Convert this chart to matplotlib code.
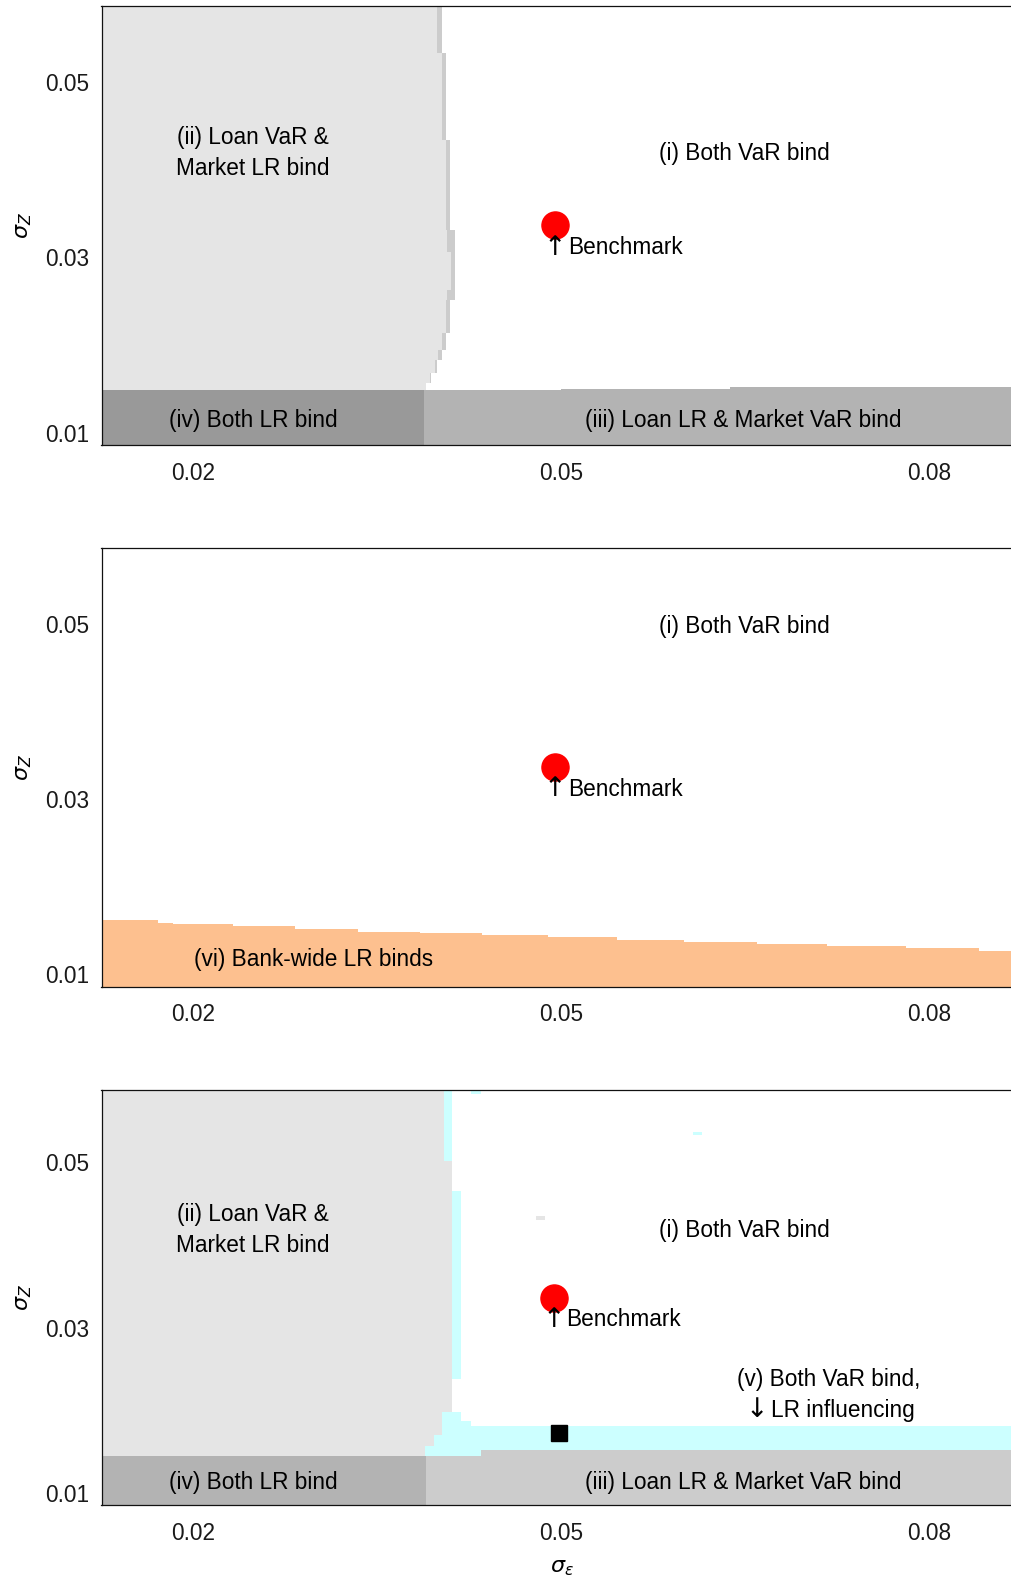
import matplotlib
matplotlib.use("Agg")
import matplotlib.pyplot as plt

plt.rcParams['font.family'] = ['Liberation Sans', 'DejaVu Sans']
plt.rcParams['mathtext.fontset'] = 'dejavusans'

# ---- axes ranges and ticks ----
x_range = (0.0125, 0.0875)
y_range = (0.0086, 0.0587)
x_ticks = [0.02, 0.05, 0.08]
x_tick_labels = ["0.02", "0.05", "0.08"]
y_ticks = [0.01, 0.03, 0.05]
y_tick_labels = ["0.01", "0.03", "0.05"]

# ---- reference points ----
benchmark_x, benchmark_y = 0.0495, 0.0337
lr_point_x, lr_point_y = 0.0498, 0.01727

# ---- panel A: separate capital requirements ----
# right edge of region (ii) and of the boundary strip, per sigma_Z band
a_band_y = [0.01488, 0.01568, 0.01682, 0.0183, 0.01945, 0.02139, 0.02516,
            0.0263, 0.03065, 0.03317, 0.04345, 0.05339, 0.07]
a_ii_x = [0.03899, 0.03932, 0.03967, 0.03997, 0.0403, 0.04063, 0.04071,
          0.04103, 0.04071, 0.04063, 0.04024, 0.03989]
a_strip_x = [0.0390, 0.0394, 0.03985, 0.04024, 0.04063, 0.04095, 0.04136,
             0.04136, 0.04136, 0.04095, 0.04063, 0.04024]
a_iv_right = 0.03877
a_iv_top = 0.01488
a_iii_x = [0.03877, 0.05002, 0.0638, 0.1]
a_iii_top = [0.01488, 0.0150, 0.01522]

# ---- panel B: bank-wide requirement ----
b_vi_x = [0.0, 0.01707, 0.01837, 0.02322, 0.02826, 0.03339, 0.03845, 0.0435,
          0.04888, 0.05451, 0.06005, 0.066, 0.07171, 0.07815, 0.0841, 0.1]
b_vi_top = [0.01614, 0.01588, 0.01569, 0.01549, 0.01512, 0.01485, 0.01466,
            0.01447, 0.0142, 0.01386, 0.01363, 0.0134, 0.01318, 0.01295, 0.01261]

# ---- panel C: separate requirements with LR influence ----
c_ii_y = [0.01455, 0.01568, 0.01709, 0.01977, 0.05013, 0.07]
c_ii_x = [0.03886, 0.03959, 0.0403, 0.04111, 0.0404]
c_v_y = [0.01455, 0.01519, 0.01817, 0.01869, 0.01977, 0.02383, 0.04648,
         0.05013, 0.07]
c_v_x = [0.1, 0.1, 0.0426, 0.04185, 0.04111, 0.04185, 0.04111, 0.04111]
c_iv_right = 0.03894
c_iv_top = 0.01455
c_iii_x = [0.03894, 0.04342, 0.1]
c_iii_top = [0.01455, 0.01519]
# isolated grid cells
c_v_cells = [(0.0426, 0.04342, 0.05827, 0.0590), (0.06071, 0.06152, 0.05323, 0.05363)]
c_ii_cells = [(0.0479, 0.04866, 0.04302, 0.04347)]

GRAY_II = "#e5e5e5"
CYAN_V = "#ccffff"
ORANGE_VI = "#fdc08f"
FS = 16.3

W, H = 1011, 1587
fig = plt.figure(figsize=(W / 100, H / 100), dpi=100)


def make_axes(top_px, bottom_px):
    left = 101.5 / W
    right = 1021.0 / W
    ax = fig.add_axes([left, 1 - bottom_px / H, right - left, (bottom_px - top_px) / H])
    ax.set_xlim(*x_range)
    ax.set_ylim(*y_range)
    ax.set_xticks(x_ticks)
    ax.set_xticklabels(x_tick_labels)
    ax.set_yticks(y_ticks)
    ax.set_yticklabels(y_tick_labels)
    ax.tick_params(axis='both', length=0, labelsize=FS, colors='#1a1a1a')
    ax.tick_params(axis='x', pad=12)
    ax.tick_params(axis='y', pad=9)
    ax.spines['right'].set_visible(False)
    for s in ('left', 'top', 'bottom'):
        ax.spines[s].set_linewidth(0.9)
        ax.spines[s].set_color('#111111')
        ax.spines[s].set_zorder(10)
    ax.text(-0.085, 0.5, r'$\sigma_Z$', rotation=90, transform=ax.transAxes,
            ha='center', va='center', fontsize=16)
    return ax


def band_fill(ax, y_edges, x_right, color, x_left=0.0):
    ax.fill_betweenx(y_edges, x_left, list(x_right) + [x_right[-1]], step='post',
                     color=color, linewidth=0, antialiased=False)


def step_fill(ax, x_edges, tops, color):
    ax.fill_between(x_edges, 0.0, list(tops) + [tops[-1]], step='post',
                    color=color, linewidth=0, antialiased=False)


def arrow_label(ax, x, y, arrow, label, gap=0.00102):
    # arrow glyph centred on x, label text to its right
    ax.text(x, y, arrow, fontsize=FS + 3, family='DejaVu Sans',
            ha='center', va='center', zorder=7)
    ax.text(x + gap, y, label, fontsize=FS, ha='left', va='center', zorder=7)


def add_benchmark(ax, x=benchmark_x, y=benchmark_y):
    ax.plot([x], [y], 'o', color='#ff0000', markersize=19.5, zorder=6)
    arrow_label(ax, x, y - 0.0026, "\u2191", "Benchmark")


label_kw = dict(fontsize=FS, ha='center', va='center', linespacing=1.45, zorder=7)

# ---------- panel A ----------
ax1 = make_axes(6, 445)
band_fill(ax1, a_band_y, a_strip_x, "#cccccc")
band_fill(ax1, a_band_y, a_ii_x, GRAY_II)
ax1.fill_between([0.0, a_iv_right], 0.0, a_iv_top, color="#999999",
                 linewidth=0, antialiased=False)
step_fill(ax1, a_iii_x, a_iii_top, "#b3b3b3")
add_benchmark(ax1)
ax1.text(0.02483, 0.0419, "(ii) Loan VaR &\nMarket LR bind", **label_kw)
ax1.text(0.06494, 0.0419, "(i) Both VaR bind", **label_kw)
ax1.text(0.02488, 0.01145, "(iv) Both LR bind", **label_kw)
ax1.text(0.06482, 0.01145, "(iii) Loan LR & Market VaR bind", **label_kw)

# ---------- panel B ----------
ax2 = make_axes(547.5, 986.5)
step_fill(ax2, b_vi_x, b_vi_top, ORANGE_VI)
add_benchmark(ax2)
ax2.text(0.06494, 0.04965, "(i) Both VaR bind", **label_kw)
ax2.text(0.02977, 0.01168, "(vi) Bank-wide LR binds", **label_kw)

# ---------- panel C ----------
ax3 = make_axes(1090, 1505)
band_fill(ax3, c_v_y, c_v_x, CYAN_V)
band_fill(ax3, c_ii_y, c_ii_x, GRAY_II)
ax3.fill_between([0.0, c_iv_right], 0.0, c_iv_top, color="#b3b3b3",
                 linewidth=0, antialiased=False)
step_fill(ax3, c_iii_x, c_iii_top, "#cccccc")
for x0, x1, y0, y1 in c_v_cells:
    ax3.fill_between([x0, x1], y0, y1, color=CYAN_V, linewidth=0, antialiased=False)
for x0, x1, y0, y1 in c_ii_cells:
    ax3.fill_between([x0, x1], y0, y1, color=GRAY_II, linewidth=0, antialiased=False)
ax3.plot([lr_point_x], [lr_point_y], 's', color='black', markersize=12, zorder=6)
add_benchmark(ax3, x=0.0494, y=0.03355)
ax3.text(0.02483, 0.04185, "(ii) Loan VaR &\nMarket LR bind", **label_kw)
ax3.text(0.06494, 0.04178, "(i) Both VaR bind", **label_kw)
ax3.text(0.0718, 0.0237, "(v) Both VaR bind,", **label_kw)
arrow_label(ax3, 0.06596, 0.02005, "\u2193", "LR influencing", gap=0.00114)
ax3.text(0.02488, 0.01135, "(iv) Both LR bind", **label_kw)
ax3.text(0.06482, 0.01135, "(iii) Loan LR & Market VaR bind", **label_kw)

fig.text(561.7 / W, 1 - 1568 / H, r'$\sigma_\epsilon$', ha='center', va='center',
         fontsize=16)

fig.savefig("out.png", dpi=100)
